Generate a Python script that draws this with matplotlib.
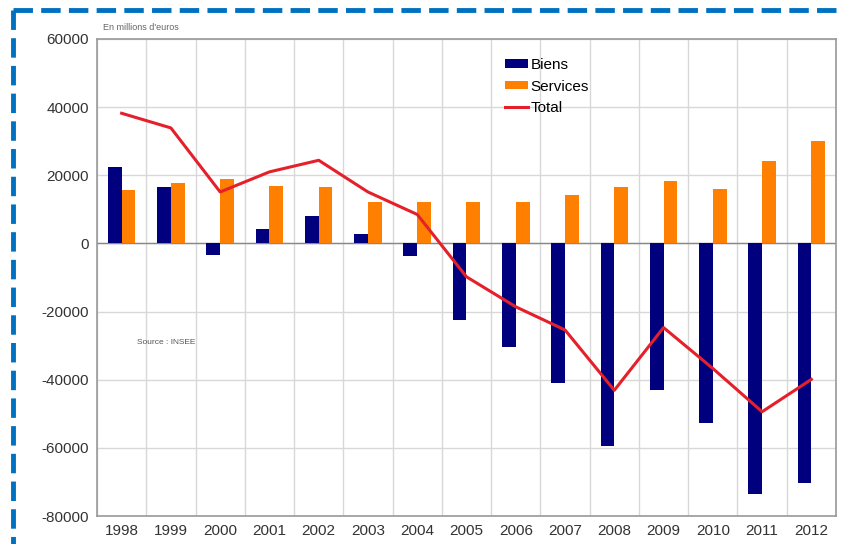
import numpy as np
import matplotlib.pyplot as plt
from matplotlib.lines import Line2D

annees = ["1998", "1999", "2000", "2001", "2002", "2003", "2004", "2005",
          "2006", "2007", "2008", "2009", "2010", "2011", "2012"]
biens = [22500, 16600, -3400, 4100, 8000, 2900, -3700, -22500,
         -30500, -41100, -59500, -42900, -52800, -73400, -70300]
services = [15600, 17600, 18800, 17000, 16600, 12300, 12100, 12300,
            12300, 14200, 16600, 18300, 15900, 24200, 30100]
total = [38200, 33900, 15100, 21000, 24400, 15100, 8500, -9800,
         -18600, -25400, -43100, -24700, -36700, -49400, -39900]

plt.rcParams['font.family'] = ['Liberation Sans', 'DejaVu Sans']

fig = plt.figure(figsize=(8.45, 5.44), dpi=100)
ax = fig.add_axes([97/845, 28/544, 739/845, 477/544])

x = np.arange(len(annees))
w = 0.28
b1 = ax.bar(x - w/2, biens, w, color='#00007f', label='Biens', zorder=3)
b2 = ax.bar(x + w/2, services, w, color='#ff8000', label='Services', zorder=3)
l1, = ax.plot(x, total, color='#e5202a', lw=2.2, label='Total', zorder=4)

ax.set_xlim(-0.5, len(annees) - 0.5)
ax.set_ylim(-80000, 60000)
ax.set_yticks(np.arange(-80000, 60001, 20000))
ax.set_yticklabels([str(v) for v in range(-80000, 60001, 20000)], fontsize=11, color='#333333')
ax.set_xticks(x)
ax.set_xticklabels(annees, fontsize=11, color='#333333')
ax.set_xticks(np.arange(-0.5, len(annees), 1), minor=True)
ax.tick_params(which='both', length=0, pad=6)
ax.grid(True, axis='y', color='#d8d8d8', lw=1, zorder=0)
ax.grid(True, axis='x', which='minor', color='#d8d8d8', lw=1, zorder=0)
ax.axhline(0, color='#888888', lw=1, zorder=2)
for s in ax.spines.values():
    s.set_color('#999999')
    s.set_linewidth(1.2)

ax.legend([b1, b2, l1], ['Biens', 'Services', 'Total'],
          loc='upper left', bbox_to_anchor=(0.544, 0.973), frameon=False, fontsize=11,
          handlelength=1.5, handleheight=0.45, handletextpad=0.15, labelspacing=0.5,
          borderaxespad=0)

fig.text(103/845, 1 - 27/544, "En millions d'euros", fontsize=6.5, color='#666666', va='center')
ax.text(137/845, 1 - 342/544, "Source : INSEE", fontsize=6, color='#555555', va='center',
        transform=fig.transFigure)

# cadre en pointillés
dash = dict(color='#0070c0', lw=3.5, linestyle=(0, (4, 1.7)), solid_capstyle='butt')
fig.add_artist(Line2D([13/845, 1.0], [1 - 10/544, 1 - 10/544], transform=fig.transFigure, **dash))
fig.add_artist(Line2D([13/845, 13/845], [1 - 10/544, 0.0], transform=fig.transFigure, **dash))

fig.savefig("out.png", dpi=100)
